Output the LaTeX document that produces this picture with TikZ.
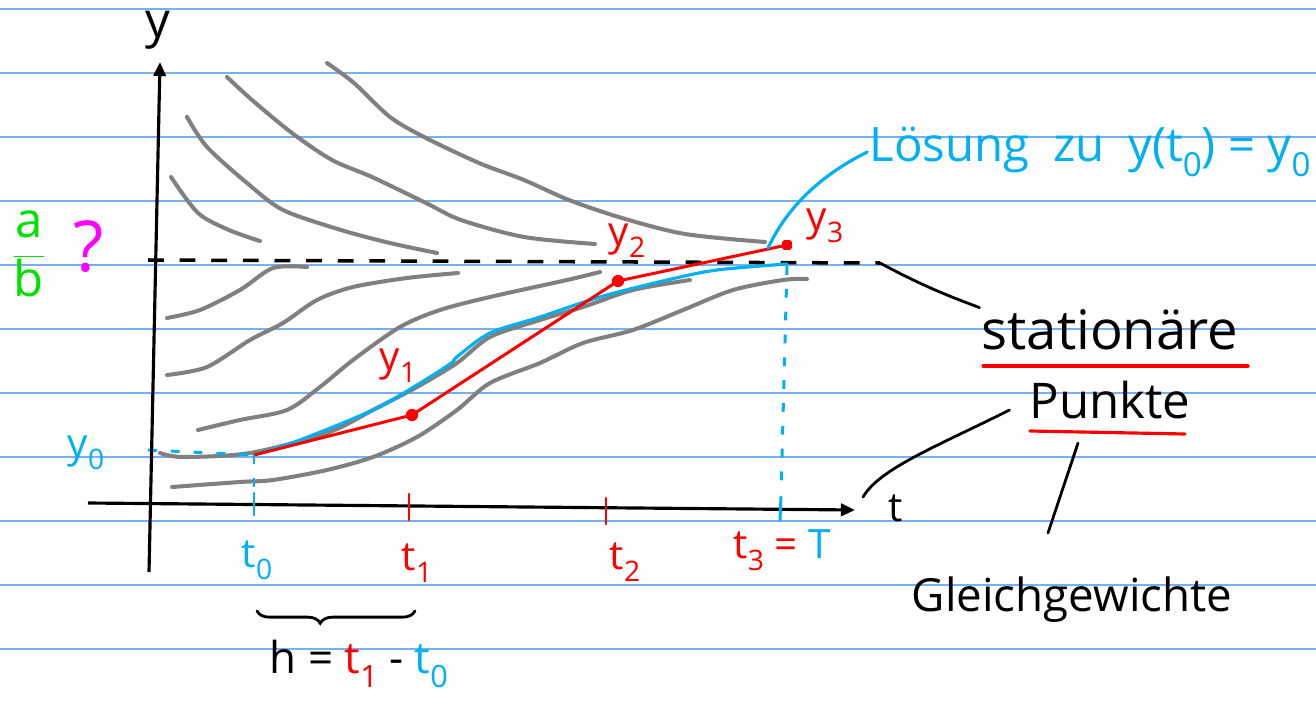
\documentclass[tikz,border=0pt]{standalone}
\usepackage{fontspec}
\setmainfont{Open Sans}
\usetikzlibrary{arrows.meta, calc, decorations.pathreplacing}

\definecolor{paperblue}{RGB}{120,175,240}
\definecolor{inkblue}{RGB}{0,176,240}
\definecolor{inkred}{RGB}{255,0,0}
\definecolor{inkgreen}{RGB}{0,225,0}
\definecolor{inkmagenta}{RGB}{255,0,255}
\definecolor{inkgray}{RGB}{128,128,128}

\newcommand{\ix}[1]{\raisebox{-0.3em}{\scalebox{0.7}{#1}}}

\begin{document}
\begin{tikzpicture}[
    x=0.02cm, y=-0.02cm,
    paperline/.style={draw=paperblue, line width=0.65pt},
    axis/.style={-{Triangle[length=8pt, width=7pt]}, line width=1.8pt, black},
    flowline/.style={inkgray, line width=2.3pt, line cap=round, line join=round},
    solution/.style={inkblue, line width=1.8pt, line cap=round, line join=round},
    euler/.style={inkred, line width=1.7pt, line join=round},
    eulerdot/.style={circle, fill=inkred, inner sep=0pt, minimum size=7pt},
    tickmark/.style={line width=1.7pt, line cap=round},
    guide/.style={inkblue, line width=1.7pt, dash pattern=on 5pt off 8pt},
    pointer/.style={line width=1.6pt, line cap=round, black},
    underline/.style={inkred, line width=1.8pt, line cap=round},
    hand/.style={font=\fontsize{23}{27}\selectfont, inner sep=1pt},
    bighand/.style={font=\fontsize{28}{33}\selectfont, inner sep=1pt},
]
\useasboundingbox (0,0) rectangle (1316,703);

% === PAPER ===
\foreach \ly in {9,73,...,649}
    \draw[paperline] (0,\ly) -- (1316,\ly);

% === SOLUTION CURVES (gray) ===
% --- above a/b ---
\draw[flowline] plot[smooth] coordinates {(171,177) (198,213) (229,230) (260,241)};
\draw[flowline] plot[smooth] coordinates {(187,117) (207,147) (247,183) (283,210) (341,230) (390,243) (437,253)};
\draw[flowline] plot[smooth] coordinates {(227,77) (252,100) (292,133) (332,160) (372,177) (426,203) (461,220) (524,237) (595,244)};
\draw[flowline] plot[smooth] coordinates {(327,63) (354,83) (390,117) (426,138) (479,163) (524,180) (569,200) (622,218) (685,234) (765,242)};
% --- below a/b ---
\draw[flowline] plot[smooth] coordinates {(167,318) (200,310) (240,290) (273,268) (307,267)};
\draw[flowline] plot[smooth] coordinates {(167,375) (207,367) (250,340) (283,323) (317,300) (353,287) (407,278) (458,273)};
\draw[flowline] plot[smooth] coordinates {(198,430) (240,420) (287,410) (320,387) (353,360) (400,327) (440,310) (490,297) (567,280) (600,272)};
\draw[flowline] plot[smooth] coordinates {(160,453) (183,457) (250,453) (327,433) (373,410) (417,387) (457,363) (490,337) (540,320) (583,307) (633,290) (690,280)};
\draw[flowline] plot[smooth] coordinates {(172,487) (240,482) (273,480) (327,470) (373,457) (417,437) (457,410) (490,383) (540,363) (583,343) (633,330) (683,310) (733,290) (783,280) (807,279)};

% === STATIONARY LEVEL ===
\coordinate (abstart) at (148,260);
\coordinate (dashend) at (880,263);
\draw[black, line width=2pt, dash pattern=on 9pt off 9pt] (abstart) -- (dashend);

% === EULER POINTS ===
\coordinate (p0) at (254,455);
\coordinate (p1) at (412,415);
\coordinate (p2) at (618,281);
\coordinate (p3) at (787,245);

% blue exact solution
\draw[guide] (148,450) -- (p0);
\draw[solution] plot[smooth] coordinates {(254,455) (300,440) (373,410) (417,385) (450,364) (458,356) (490,333) (540,317) (600,297) (667,280) (717,270) (787,264)};
\coordinate (solend) at (768,248);

% red Euler polygon
\draw[euler] (p0) -- (p1) -- (p2) -- (p3);
\node[eulerdot] at (p1) {};
\node[eulerdot] at (p2) {};
\node[eulerdot, rectangle, minimum size=5.5pt, rounded corners=1pt] at (p3) {};

% === AXES ===
\coordinate (yfoot) at (149,572);
\coordinate (ytip) at (160,62);
\coordinate (tfoot) at (88,503);
\coordinate (ttip) at (855,510);
\draw[axis] (yfoot) -- (ytip);
\draw[axis] (tfoot) -- (ttip);
\node[bighand] (ylabel) at (158,30) {y};
\node[hand] (tlabel) at (896,508) {t};

% ticks and guides
\draw[guide] (p0) -- (254,490);
\draw[tickmark, inkblue] (254,493) -- (254,515);
\draw[tickmark, inkred] (409,494) -- (409,520);
\draw[tickmark, inkred] (606,498) -- (606,524);
\draw[guide] (787,266) -- (781,494);
\draw[tickmark, inkblue] (781,497) -- (780,520);

% === LABELS ===
\node[bighand, text=inkgreen] (ab) at (29,254) {$\displaystyle\frac{\mbox{a}}{\mbox{b}}$};
\node[font=\fontsize{40}{44}\selectfont, text=inkmagenta] (quest) at (89,247) {?};
\node[hand, text=inkblue] (yzero) at (86,453) {y\ix{0}};
\node[hand, text=inkred] (yone) at (398,366) {y\ix{1}};
\node[hand, text=inkred] (ytwo) at (627,241) {y\ix{2}};
\node[hand, text=inkred] (ythree) at (825,226) {y\ix{3}};

\node[hand, text=inkblue] (tzero) at (257,560) {t\ix{0}};
\node[hand, text=inkred] (tone) at (417,563) {t\ix{1}};
\node[hand, text=inkred] (ttwo) at (625,562) {t\ix{2}};
\node[hand, text=inkred] (tthree) at (782,550) {t\ix{3} = \textcolor{inkblue}{T}};

% step width
\draw[pointer, decorate, decoration={brace, amplitude=7pt, aspect=0.4, mirror}] (257,611) -- (415,611);
\node[font=\fontsize{25}{30}\selectfont, inner sep=1pt] (hlabel) at (359,664) {h = \textcolor{inkred}{t\ix{1}} - \textcolor{inkblue}{t\ix{0}}};

% === ANNOTATIONS ===
\node[font=\fontsize{27}{32}\selectfont, inner sep=1pt, text=inkblue] (loesung) at (1090,152) {Lösung\enspace zu\enspace y(t\ix{0}) = y\ix{0}};
\draw[solution] (loesung.west) .. controls (815,178) and (785,212) .. (solend);

\node[font=\fontsize{31}{36}\selectfont, inner sep=1pt] (stat) at (1110,330) {stationäre};
\draw[underline] (983,366) -- (1248,366);
\node[bighand] (punkte) at (1110,400) {Punkte};
\draw[underline] (1030,431) -- (1185,434);
\node[font=\fontsize{26}{31}\selectfont, inner sep=1pt] (gleich) at (1072,600) {Gleichgewichte};

\coordinate (tpoint) at (863,497);
\coordinate (gleichtop) at (1048,533);
\draw[pointer] (dashend) .. controls (930,290) and (960,300) .. (stat.north west);
\draw[pointer] ($(punkte.west)+(-18,10)$) .. controls (940,445) and (880,468) .. (tpoint);
\draw[pointer] ($(punkte.south)+(-32,22)$) -- (gleichtop);

\end{tikzpicture}
\end{document}
